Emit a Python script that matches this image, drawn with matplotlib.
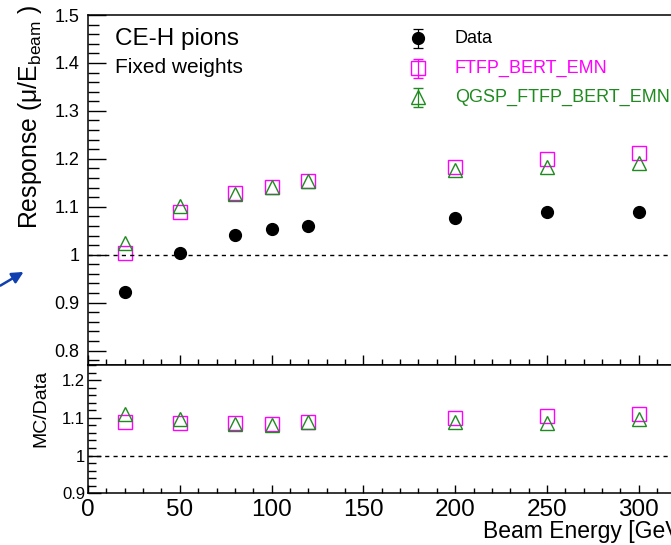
import matplotlib
matplotlib.use("Agg")
import matplotlib.pyplot as plt
from matplotlib.ticker import MultipleLocator, FixedLocator, FuncFormatter

plt.rcParams['font.family'] = ['Liberation Sans', 'DejaVu Sans']
plt.rcParams['mathtext.fontset'] = 'custom'
plt.rcParams['mathtext.rm'] = 'Liberation Sans'

# Data
energy = [20, 50, 80, 100, 120, 200, 250, 300]
resp_data = [0.923, 1.003, 1.041, 1.054, 1.060, 1.077, 1.089, 1.090]
resp_ftfp = [1.003, 1.090, 1.128, 1.142, 1.154, 1.182, 1.200, 1.212]
resp_qgsp = [1.024, 1.101, 1.127, 1.141, 1.153, 1.176, 1.183, 1.192]
ratio_ftfp = [1.088, 1.086, 1.085, 1.083, 1.090, 1.099, 1.104, 1.111]
ratio_qgsp = [1.110, 1.097, 1.083, 1.082, 1.088, 1.090, 1.085, 1.097]

labels = ['Data', 'FTFP_BERT_EMN', 'QGSP_FTFP_BERT_EMN']
x_major = [0, 50, 100, 150, 200, 250, 300]
magenta = '#ff00ff'
green = '#1f8a1f'

W, H = 671, 545
fig = plt.figure(figsize=(W / 100, H / 100), dpi=100)

left = 88 / W
width = (350 * 1.836) / W
ax1 = fig.add_axes([left, 1 - 365 / H, width, (365 - 15) / H])
ax2 = fig.add_axes([left, 1 - 493.3 / H, width, (493.3 - 365) / H])

# upper panel
ax1.plot(energy, resp_data, 'o', color='k', ms=8.5, zorder=3)
ax1.plot(energy, resp_ftfp, 's', mfc='none', mec=magenta, mew=1.0, ms=10)
ax1.plot(energy, resp_qgsp, '^', mfc='none', mec=green, mew=1.0, ms=10)
ax1.axhline(1.0, color='k', ls=(0, (3, 3)), lw=1)
ax1.set_xlim(0, 350)
ax1.set_ylim(0.77, 1.5)

# lower panel
ax2.plot(energy, ratio_ftfp, 's', mfc='none', mec=magenta, mew=1.0, ms=10)
ax2.plot(energy, ratio_qgsp, '^', mfc='none', mec=green, mew=1.0, ms=10)
ax2.axhline(1.0, color='k', ls=(0, (3, 3)), lw=1)
ax2.set_xlim(0, 350)
ax2.set_ylim(0.9, 1.24)

fmt = FuncFormatter(lambda v, p: '%g' % round(v, 3))
for ax in (ax1, ax2):
    ax.spines['right'].set_visible(False)
    for s in ('left', 'bottom', 'top'):
        ax.spines[s].set_linewidth(1.1)
    ax.xaxis.set_major_locator(FixedLocator(x_major))
    ax.xaxis.set_minor_locator(MultipleLocator(10))
    ax.yaxis.set_major_locator(MultipleLocator(0.1))
    ax.yaxis.set_minor_locator(MultipleLocator(0.02))
    ax.yaxis.set_major_formatter(fmt)
    ax.tick_params(which='both', direction='in', top=False, right=False, width=1)

ax1.tick_params(axis='x', labelbottom=False)
ax1.tick_params(axis='x', which='major', length=7)
ax1.tick_params(axis='x', which='minor', length=4)
ax1.tick_params(axis='y', which='major', length=13, pad=6, labelsize=13)
ax1.tick_params(axis='y', which='minor', length=8)

ax2.tick_params(axis='x', which='major', length=6, pad=4, labelsize=17.5)
ax2.tick_params(axis='x', which='minor', length=3.5)
ax2.tick_params(axis='y', which='major', length=9, pad=2, labelsize=12)
ax2.tick_params(axis='y', which='minor', length=5.5)

# texts
fig.text(115 / W, 1 - 45 / H, 'CE-H pions', fontsize=17.5, va='baseline')
fig.text(115 / W, 1 - 73 / H, 'Fixed weights', fontsize=15, va='baseline')
fig.text(37 / W, 1 - 5 / H, r'Response (μ/E$_{\mathrm{beam}}$ )', fontsize=17.8,
         rotation=90, rotation_mode='anchor', ha='right', va='baseline')
fig.text(45 / W, 1 - 408 / H, 'MC/Data', fontsize=14,
         rotation=90, rotation_mode='anchor', ha='center', va='baseline')
fig.text(483 / W, 1 - 538 / H, 'Beam Energy [GeV]', fontsize=16.5, va='baseline')

# overlay in pixel coordinates for legend and arrow
ov = fig.add_axes([0, 0, 1, 1], facecolor='none')
ov.set_xlim(0, W)
ov.set_ylim(H, 0)
ov.axis('off')

leg_rows = [(38, 43), (68, 73), (97, 102)]
styles = [dict(marker='o', color='k', mfc='k', ms=8.5),
          dict(marker='s', color=magenta, mfc='none', mec=magenta, ms=10, mew=1.0),
          dict(marker='^', color=green, mfc='none', mec=green, ms=10, mew=1.0)]
colors = ['k', magenta, green]
for (yc, yb), st, lab, c in zip(leg_rows, styles, labels, colors):
    ov.errorbar([418], [yc], yerr=[9.5], capsize=3.5, elinewidth=0.9,
                capthick=0.9, ls='none', **st)
    ov.text(455, yb, lab, color=c, fontsize=13, va='baseline')

ov.annotate('', xy=(26, 270.5), xytext=(-2, 287),
            arrowprops=dict(arrowstyle='-|>', color='#1040b0', lw=1.8,
                            mutation_scale=17))

fig.savefig('out.png', dpi=100)
